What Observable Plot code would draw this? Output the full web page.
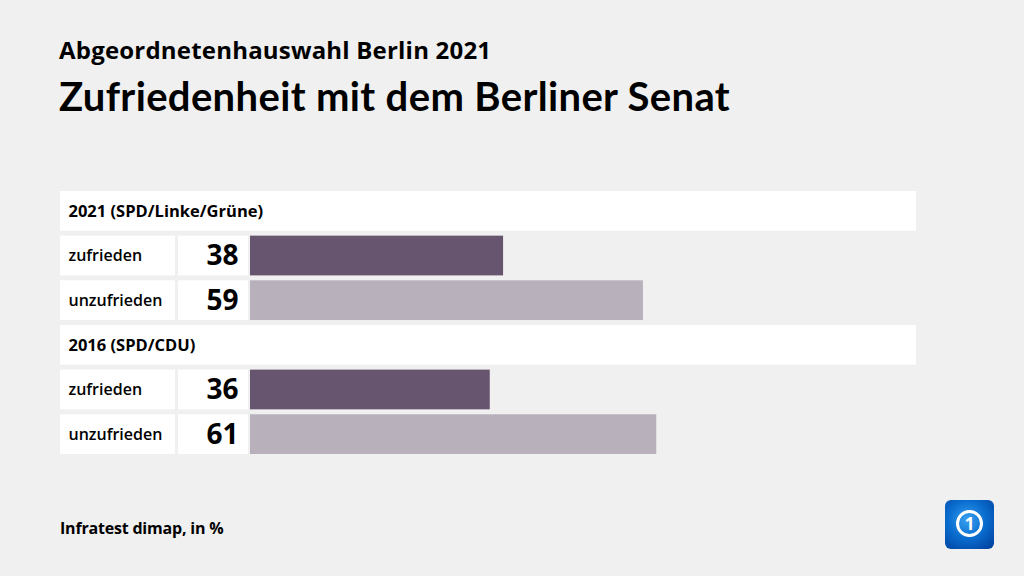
<!DOCTYPE html>
<html>
<head>
<meta charset="utf-8">
<script src="https://cdn.jsdelivr.net/npm/d3@7"></script>
<script src="https://cdn.jsdelivr.net/npm/@observablehq/plot@0.6"></script>
<style>
  html, body { margin: 0; padding: 0; }
  body { width: 1024px; height: 576px; overflow: hidden; position: relative; background: #f0f0f0; font-family: "Open Sans", sans-serif; color: #000; }
  .t { position: absolute; white-space: nowrap; line-height: 1; }
  #sub { left: 59px; top: 38px; font-size: 24px; font-weight: 700; letter-spacing: 0.2px; }
  #title { left: 59px; top: 76px; font-family: Lato, "Open Sans", sans-serif; font-size: 40px; font-weight: 700; letter-spacing: 0.35px; }
  #chart { position: absolute; left: 0; top: 170px; line-height: 0; }
  #foot { left: 60px; top: 520px; font-size: 16px; font-weight: 700; letter-spacing: -0.2px; }
  #logo { position: absolute; left: 945px; top: 500px; width: 49px; height: 49px; border-radius: 6px;
          background: radial-gradient(circle at 45% 40%, #3aa0f0 0%, #0a6fd0 45%, #003c9a 100%); overflow: hidden; }
  #logo .ring { position: absolute; left: 11px; top: 10px; width: 21px; height: 21px; border: 3px solid #fff; border-radius: 50%;
          color: #fff; font: 700 17px/21px "Open Sans"; text-align: center; }
</style>
</head>
<body>
<div class="t" id="sub">Abgeordnetenhauswahl Berlin 2021</div>
<div class="t" id="title">Zufriedenheit mit dem Berliner Senat</div>
<div id="chart"></div>
<div class="t" id="foot">Infratest dimap, in %</div>
<div id="logo"><div class="ring">1</div></div>
<script>
// Data
const groups = ["2021 (SPD/Linke/Grüne)", "2016 (SPD/CDU)"];
const categories = ["zufrieden", "unzufrieden"];
const values2021 = [38, 59];
const values2016 = [36, 61];
const seriesValues = [values2021, values2016];
const colors = ["#67556f", "#b8b0bb"];

// Build table
const rowOrder = [];
const headers = [];
const bars = [];
groups.forEach((g, gi) => {
  const hk = "h" + gi;
  rowOrder.push(hk);
  headers.push({ key: hk, label: g });
  categories.forEach((c, ci) => {
    const k = gi + "-" + c;
    rowOrder.push(k);
    bars.push({ key: k, category: c, value: seriesValues[gi][ci] });
  });
});

const font = "Open Sans";
const chart = Plot.plot({
  width: 1024,
  height: 300,
  marginTop: 21,
  marginBottom: 16,
  marginLeft: 250,
  marginRight: 108,
  style: { background: "transparent", fontFamily: font },
  x: { domain: [0, 100], axis: null },
  y: { domain: rowOrder, axis: null, paddingInner: 0.11, paddingOuter: 0, round: false },
  color: { domain: categories, range: colors },
  marks: [
    // group header bands
    Plot.barX(headers, { x1: 0, x2: 100, y: "key", fill: "#fff", insetLeft: -190 }),
    Plot.text(headers, { x: 0, y: "key", text: "label", dx: -182, textAnchor: "start",
      fontSize: 16.5, fontWeight: 700, fill: "#000" }),
    // label cells
    Plot.barX(bars, { x1: 0, x2: 0, y: "key", fill: "#fff", insetLeft: -190, insetRight: 75 }),
    // value cells
    Plot.barX(bars, { x1: 0, x2: 0, y: "key", fill: "#fff", insetLeft: -72, insetRight: 2 }),
    Plot.text(bars, { x: 0, y: "key", text: "category", dx: -182, textAnchor: "start",
      fontSize: 16, fontWeight: 600, fill: "#000" }),
    Plot.text(bars, { x: 0, y: "key", text: d => String(d.value), dx: -12, textAnchor: "end",
      fontSize: 28, fontWeight: 700, fill: "#000" }),
    // bars
    Plot.barX(bars, { x1: 0, x2: "value", y: "key", fill: "category" })
  ]
});
document.getElementById("chart").appendChild(chart);
</script>
</body>
</html>
